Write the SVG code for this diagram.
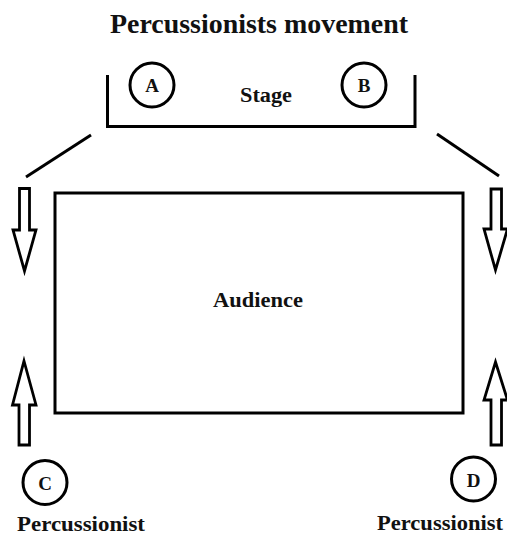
<svg xmlns="http://www.w3.org/2000/svg" width="507" height="537" viewBox="0 0 507 537">
<style>
.ln{fill:none;stroke:#000;stroke-width:3;stroke-linecap:butt}
.ar{fill:#fff;stroke:#000;stroke-width:2.8;stroke-linejoin:miter}
.cir{fill:#fff;stroke:#000;stroke-width:3}
.t{font-family:"Liberation Serif","Times New Roman",serif;font-weight:bold;fill:#111;text-anchor:middle}
</style>
<rect width="507" height="537" fill="#fff"/>
<text class="t" x="259" y="33" font-size="27" textLength="298" lengthAdjust="spacingAndGlyphs">Percussionists movement</text>
<g id="stage">
<path class="ln" d="M107.5,75 V126.5 H415 V75"/>
<text class="t" x="266" y="102" font-size="20" textLength="52" lengthAdjust="spacingAndGlyphs">Stage</text>
</g>
<g id="A"><circle class="cir" cx="152" cy="85" r="22"/><text class="t" x="152" y="91.5" font-size="19">A</text></g>
<g id="B"><circle class="cir" cx="364" cy="85" r="22"/><text class="t" x="364" y="91.5" font-size="19">B</text></g>
<g id="audience">
<rect class="ln" x="55" y="193" width="408" height="220"/>
<text class="t" x="258" y="307" font-size="20" textLength="90" lengthAdjust="spacingAndGlyphs">Audience</text>
</g>
<g id="C"><circle class="cir" cx="45" cy="482.5" r="22"/><text class="t" x="45" y="490" font-size="19">C</text>
<text class="t" x="81" y="531" font-size="20" textLength="128" lengthAdjust="spacingAndGlyphs">Percussionist</text></g>
<g id="D"><circle class="cir" cx="473.5" cy="479" r="22"/><text class="t" x="473.5" y="486.5" font-size="19">D</text>
<text class="t" x="440" y="530" font-size="20" textLength="126" lengthAdjust="spacingAndGlyphs">Percussionist</text></g>
<g id="connectors">
<line class="ln" x1="91" y1="135" x2="26" y2="177"/>
<line class="ln" x1="437" y1="134" x2="499" y2="176"/>
<polygon class="ar" points="19.5,188.5 29.5,188.5 29.5,230 36,230 24.5,271 13,230 19.5,230"/>
<polygon class="ar" points="24,361 36,405 29.5,405 29.5,445 19,445 19,405 12.5,405"/>
<polygon class="ar" points="491,189 501.5,189 501.5,229 507.5,229 495.5,270 484,229 491,229"/>
<polygon class="ar" points="495.5,362 507.5,400 501.5,400 501.5,445 491,445 491,400 484,400"/>
</g>
</svg>
